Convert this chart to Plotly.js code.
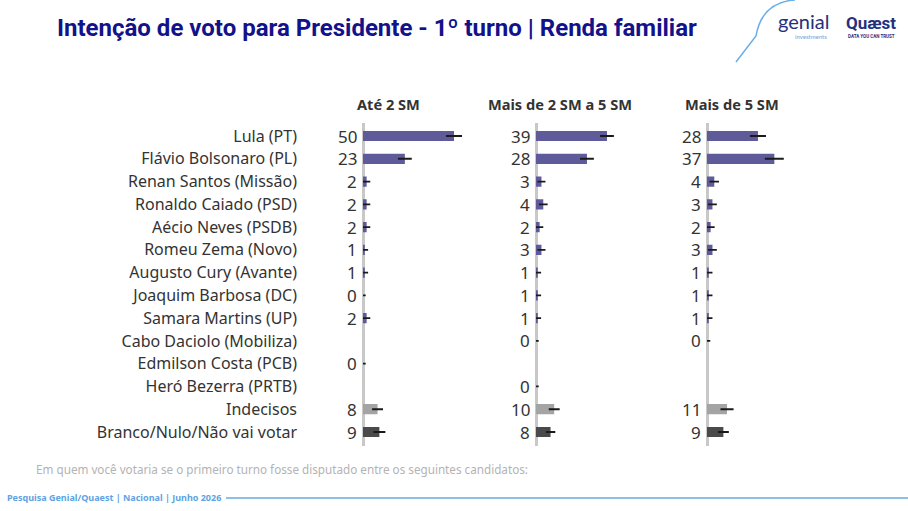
<!DOCTYPE html>
<html>
<head>
<meta charset="utf-8">
<script src="https://cdn.plot.ly/plotly-3.0.1.min.js"></script>
<style>html,body{margin:0;padding:0;background:#fff;}#chart{width:908px;height:511px;}</style>
</head>
<body>
<div id="chart"></div>
<script>
// ---- data ----
const categories = [
  "Lula (PT)", "Flávio Bolsonaro (PL)", "Renan Santos (Missão)", "Ronaldo Caiado (PSD)",
  "Aécio Neves (PSDB)", "Romeu Zema (Novo)", "Augusto Cury (Avante)", "Joaquim Barbosa (DC)",
  "Samara Martins (UP)", "Cabo Daciolo (Mobiliza)", "Edmilson Costa (PCB)", "Heró Bezerra (PRTB)",
  "Indecisos", "Branco/Nulo/Não vai votar"
];
const groups = ["Até 2 SM", "Mais de 2 SM a 5 SM", "Mais de 5 SM"];
const ate2 = [50, 23, 2, 2, 2, 1, 1, 0, 2, null, 0, null, 8, 9];
const de2a5 = [39, 28, 3, 4, 2, 3, 1, 1, 1, 0, null, 0, 10, 8];
const mais5 = [28, 37, 4, 3, 2, 3, 1, 1, 1, 0, null, null, 11, 9];
const errAte2 = [4.4, 3.8, 2, 2, 2, 1.8, 1.8, 1.5, 2, null, 1.5, null, 3, 3.3];
const errDe2a5 = [3.8, 3.8, 2.2, 2.4, 2, 2.2, 1.8, 1.8, 1.8, 1.5, null, 1.5, 3, 2.6];
const errMais5 = [4.4, 5.2, 2.6, 2.4, 2.2, 2.4, 2, 2, 2, 1.8, null, null, 3.6, 3];
const title = "Intenção de voto para Presidente - 1º turno | Renda familiar";
const question = "Em quem você votaria se o primeiro turno fosse disputado entre os seguintes candidatos:";
const source = "Pesquisa Genial/Quaest | Nacional | Junho 2026";

// ---- styling ----
const W = 908, H = 511;
const px = v => v / W;
const py = v => 1 - v / H;
const barColors = categories.map(c => c === "Indecisos" ? "#a4a4a4" : (c.startsWith("Branco") ? "#4a4a4a" : "#5f5b9b"));
const series = [ate2, de2a5, mais5];
const errs = [errAte2, errDe2a5, errMais5];
const axisLeft = [363, 536, 707];
const headerX = [388, 560, 732];
const scale = 1.82; // px per unit
const panelW = 115;
const fontMain = "Noto Sans, Open Sans, sans-serif";

const traces = series.map((vals, i) => ({
  type: "bar",
  orientation: "h",
  x: vals,
  y: categories,
  xaxis: i === 0 ? "x" : "x" + (i + 1),
  yaxis: "y",
  width: 0.45,
  marker: {color: barColors},
  error_x: {type: "data", array: errs[i], color: "#1a1a1a", thickness: 1.8, width: 0, visible: true},
  hoverinfo: "skip",
  showlegend: false
}));

const annotations = [];
series.forEach((vals, i) => {
  const xr = i === 0 ? "x" : "x" + (i + 1);
  vals.forEach((v, j) => {
    if (v === null) return;
    annotations.push({
      xref: xr, yref: "y", x: 0, y: categories[j], text: String(v),
      xanchor: "right", yanchor: "middle", xshift: -4, showarrow: false,
      font: {family: fontMain, size: 17, color: "#333333"}
    });
  });
  annotations.push({
    xref: "paper", yref: "paper", x: px(headerX[i]), y: py(104), text: "<b>" + groups[i] + "</b>",
    xanchor: "center", yanchor: "middle", showarrow: false,
    font: {family: fontMain, size: 14.6, color: "#333333"}
  });
});

annotations.push(
  {xref: "paper", yref: "paper", x: px(55), y: py(28), text: "<b>" + title + "</b>", xanchor: "left", yanchor: "middle",
   showarrow: false, font: {family: "Roboto, sans-serif", size: 24, color: "#12128a"}},
  {xref: "paper", yref: "paper", x: px(34), y: py(469), text: question, xanchor: "left", yanchor: "middle",
   showarrow: false, font: {family: fontMain, size: 11.7, color: "#b3b3b3"}},
  {xref: "paper", yref: "paper", x: px(5), y: py(497), text: "<b>" + source + "</b>", xanchor: "left", yanchor: "middle",
   showarrow: false, font: {family: fontMain, size: 9, color: "#5ea3e3"}},
  {xref: "paper", yref: "paper", x: px(803), y: py(21), text: "genial", xanchor: "center", yanchor: "middle",
   showarrow: false, font: {family: "Lato, sans-serif", size: 20, color: "#27307c"}},
  {xref: "paper", yref: "paper", x: px(811), y: py(37), text: "investments", xanchor: "center", yanchor: "middle",
   showarrow: false, font: {family: "Lato, sans-serif", size: 6, color: "#6aa6e0"}},
  {xref: "paper", yref: "paper", x: px(871), y: py(23), text: "<b>Quæst</b>", xanchor: "center", yanchor: "middle",
   showarrow: false, font: {family: "Roboto, sans-serif", size: 17, color: "#27307c"}},
  {xref: "paper", yref: "paper", x: px(871), y: py(37), text: "<b>DATA YOU CAN TRUST</b>", xanchor: "center", yanchor: "middle",
   showarrow: false, font: {family: "Roboto, sans-serif", size: 4.5, color: "#27307c"}}
);

const shapes = [
  {type: "line", xref: "paper", yref: "paper", x0: px(226), x1: px(908), y0: py(498), y1: py(498),
   line: {color: "#8cc0ec", width: 2}},
  {type: "path", xref: "paper", yref: "paper",
   path: `M ${px(795)} ${py(0)} Q ${px(762)} ${py(2)} ${px(756)} ${py(36)} L ${px(736)} ${py(62)}`,
   line: {color: "#6aaee8", width: 1.5}}
];

const layout = {
  width: W, height: H,
  margin: {l: 0, r: 0, t: 0, b: 0, pad: 0},
  paper_bgcolor: "#ffffff", plot_bgcolor: "rgba(0,0,0,0)",
  showlegend: false,
  annotations: annotations,
  shapes: shapes,
  yaxis: {
    type: "category", autorange: "reversed", domain: [py(445.5), py(122.5)],
    anchor: "free", position: px(297), showgrid: false, zeroline: false, showline: false,
    ticks: "", tickfont: {family: fontMain, size: 16, color: "#333333"}, fixedrange: true
  }
};
axisLeft.forEach((a, i) => {
  const key = i === 0 ? "xaxis" : "xaxis" + (i + 1);
  layout[key] = {
    domain: [px(a), px(a + panelW)], range: [0, panelW / scale], anchor: "y",
    showgrid: false, showticklabels: false, showline: false, ticks: "",
    zeroline: true, zerolinecolor: "#c8c8c8", zerolinewidth: 3, fixedrange: true
  };
});

Plotly.newPlot("chart", traces, layout, {displayModeBar: false, staticPlot: true});
</script>
</body>
</html>
